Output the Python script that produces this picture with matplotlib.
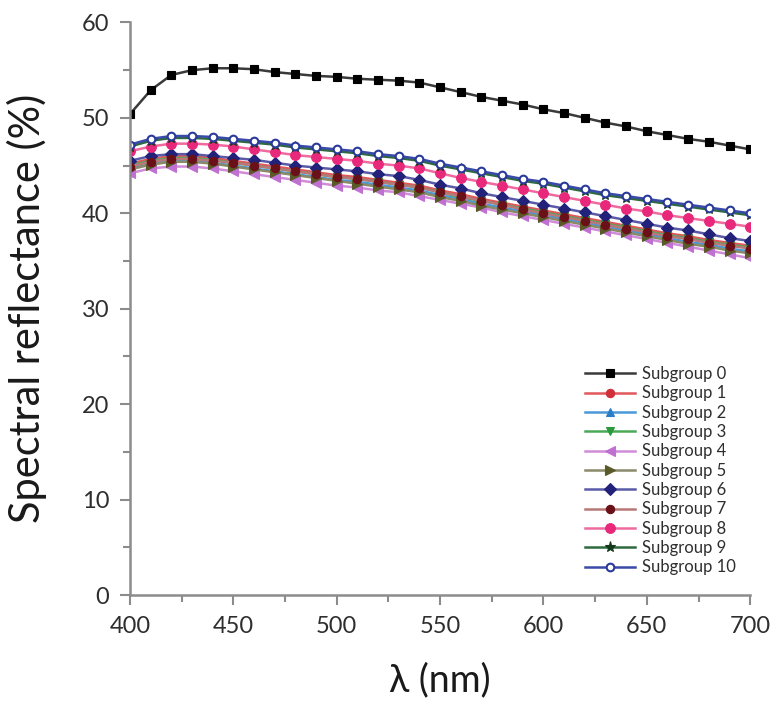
import matplotlib
matplotlib.use('Agg')
import matplotlib.pyplot as plt
from matplotlib.ticker import MultipleLocator

plt.rcParams['font.family'] = ['Lato', 'DejaVu Sans']

# wavelength grid (nm)
wl = [400, 410, 420, 430, 440, 450, 460, 470, 480, 490, 500,
      510, 520, 530, 540, 550, 560, 570, 580, 590, 600,
      610, 620, 630, 640, 650, 660, 670, 680, 690, 700]

# spectral reflectance (%)
sg0 = [50.4, 52.9, 54.5, 55.0, 55.2, 55.2, 55.1, 54.8, 54.6, 54.4, 54.3,
       54.1, 54.0, 53.9, 53.7, 53.2, 52.7, 52.2, 51.8, 51.4, 50.9,
       50.5, 50.0, 49.5, 49.1, 48.6, 48.2, 47.8, 47.5, 47.1, 46.7]
sg1 = [45.2, 45.7, 46.0, 46.0, 45.8, 45.5, 45.2, 44.9, 44.6, 44.3, 44.0,
       43.8, 43.5, 43.2, 42.9, 42.4, 42.0, 41.5, 41.1, 40.7, 40.3,
       39.9, 39.5, 39.1, 38.7, 38.3, 37.9, 37.6, 37.2, 36.9, 36.6]
sg2 = [44.7, 45.2, 45.5, 45.5, 45.3, 45.0, 44.7, 44.4, 44.1, 43.8, 43.5,
       43.3, 43.0, 42.7, 42.4, 41.9, 41.5, 41.0, 40.6, 40.2, 39.8,
       39.4, 39.0, 38.6, 38.2, 37.8, 37.4, 37.0, 36.7, 36.3, 36.0]
sg3 = [45.0, 45.5, 45.8, 45.8, 45.6, 45.3, 45.0, 44.7, 44.4, 44.1, 43.8,
       43.6, 43.3, 43.0, 42.7, 42.2, 41.7, 41.3, 40.9, 40.5, 40.1,
       39.7, 39.3, 38.9, 38.5, 38.1, 37.7, 37.4, 37.0, 36.7, 36.4]
sg4 = [44.2, 44.7, 44.9, 44.9, 44.7, 44.4, 44.1, 43.8, 43.5, 43.2, 42.9,
       42.7, 42.4, 42.2, 41.8, 41.4, 41.0, 40.6, 40.1, 39.7, 39.3,
       38.9, 38.5, 38.1, 37.7, 37.3, 36.9, 36.5, 36.1, 35.7, 35.3]
sg5 = [44.6, 45.1, 45.4, 45.4, 45.2, 44.9, 44.6, 44.3, 44.0, 43.7, 43.4,
       43.1, 42.8, 42.5, 42.2, 41.7, 41.3, 40.8, 40.4, 40.0, 39.6,
       39.2, 38.8, 38.4, 38.0, 37.6, 37.2, 36.8, 36.5, 36.1, 35.8]
sg6 = [45.5, 46.0, 46.2, 46.2, 46.0, 45.8, 45.6, 45.3, 45.0, 44.8, 44.6,
       44.4, 44.1, 43.9, 43.5, 43.0, 42.6, 42.1, 41.7, 41.3, 40.9,
       40.5, 40.1, 39.7, 39.3, 38.9, 38.5, 38.2, 37.8, 37.4, 37.1]
sg7 = [44.9, 45.4, 45.7, 45.7, 45.5, 45.3, 45.0, 44.7, 44.4, 44.1, 43.8,
       43.6, 43.3, 43.0, 42.7, 42.2, 41.8, 41.3, 40.9, 40.4, 40.0,
       39.6, 39.2, 38.8, 38.4, 38.0, 37.6, 37.3, 36.9, 36.6, 36.3]
sg8 = [46.5, 47.0, 47.3, 47.3, 47.2, 47.0, 46.7, 46.4, 46.1, 45.9, 45.7,
       45.5, 45.2, 45.0, 44.7, 44.2, 43.7, 43.3, 42.9, 42.5, 42.1,
       41.7, 41.3, 40.9, 40.5, 40.2, 39.8, 39.5, 39.2, 38.9, 38.6]
sg9 = [47.0, 47.6, 47.9, 47.9, 47.8, 47.6, 47.4, 47.2, 46.9, 46.7, 46.5,
       46.3, 46.0, 45.8, 45.5, 45.0, 44.6, 44.2, 43.8, 43.4, 43.1,
       42.7, 42.3, 41.9, 41.6, 41.3, 41.0, 40.7, 40.4, 40.1, 39.8]
sg10 = [47.2, 47.8, 48.1, 48.1, 48.0, 47.8, 47.6, 47.4, 47.1, 46.9, 46.7,
        46.5, 46.2, 46.0, 45.7, 45.2, 44.8, 44.4, 44.0, 43.6, 43.3,
        42.9, 42.5, 42.1, 41.8, 41.5, 41.2, 40.9, 40.6, 40.3, 40.0]

series = [sg0, sg1, sg2, sg3, sg4, sg5, sg6, sg7, sg8, sg9, sg10]
labels = ['Subgroup %d' % i for i in range(11)]
line_colors = ['#3a3a3a', '#e0585c', '#4a98d8', '#4aaa58', '#d08cd8', '#8a8a6a',
               '#5a5aa8', '#b87878', '#ef6a9e', '#2e6a3e', '#3a4aa8']
marker_colors = ['#000000', '#d0303a', '#2a7ec8', '#2a9a3a', '#c070d0', '#5a5a28',
                 '#22227a', '#6a1018', '#e8287a', '#123a18', '#2a3a9a']
markers = ['s', 'o', '^', 'v', '<', '>', 'D', 'o', 'o', '*', 'o']
msizes = [6, 6, 6, 6, 7, 7, 6, 6, 7, 8, 5.5]

fig = plt.figure(figsize=(7.77, 7.02), dpi=100)
ax = fig.add_axes([0.1673, 0.1524, 0.7982, 0.8156])

for i in range(len(series)):
    face = 'white' if i == 10 else marker_colors[i]
    ax.plot(wl, series[i], color=line_colors[i], lw=1.8,
            marker=markers[i], ms=msizes[i], mfc=face,
            mec=marker_colors[i], mew=1.5 if i == 10 else 0.8,
            label=labels[i])

ax.set_xlim(400, 700)
ax.set_ylim(0, 60)
ax.xaxis.set_major_locator(MultipleLocator(50))
ax.xaxis.set_minor_locator(MultipleLocator(25))
ax.yaxis.set_major_locator(MultipleLocator(10))
ax.yaxis.set_minor_locator(MultipleLocator(5))

for s in ['top', 'right']:
    ax.spines[s].set_visible(False)
for s in ['left', 'bottom']:
    ax.spines[s].set_color('#8c8c8c')
    ax.spines[s].set_linewidth(1.8)

ax.tick_params(which='both', direction='out', color='#8c8c8c', width=1.5)
ax.tick_params(which='major', length=7, labelsize=17, labelcolor='#2e2e2e', pad=8)
ax.tick_params(which='minor', length=5)

ax.set_xlabel('λ (nm)', fontsize=27, color='#1a1a1a', labelpad=18)
ax.set_ylabel('Spectral reflectance (%)', fontsize=30, color='#1a1a1a', labelpad=25)

leg = ax.legend(loc='upper left', bbox_to_anchor=(585 / 777, 1 - 366 / 702),
                bbox_transform=fig.transFigure, frameon=False, fontsize=12,
                handlelength=3.0, handletextpad=0.4, labelspacing=0.2,
                borderpad=0, borderaxespad=0)
for t in leg.get_texts():
    t.set_color('#2e2e2e')

fig.savefig('out.png', dpi=100)
